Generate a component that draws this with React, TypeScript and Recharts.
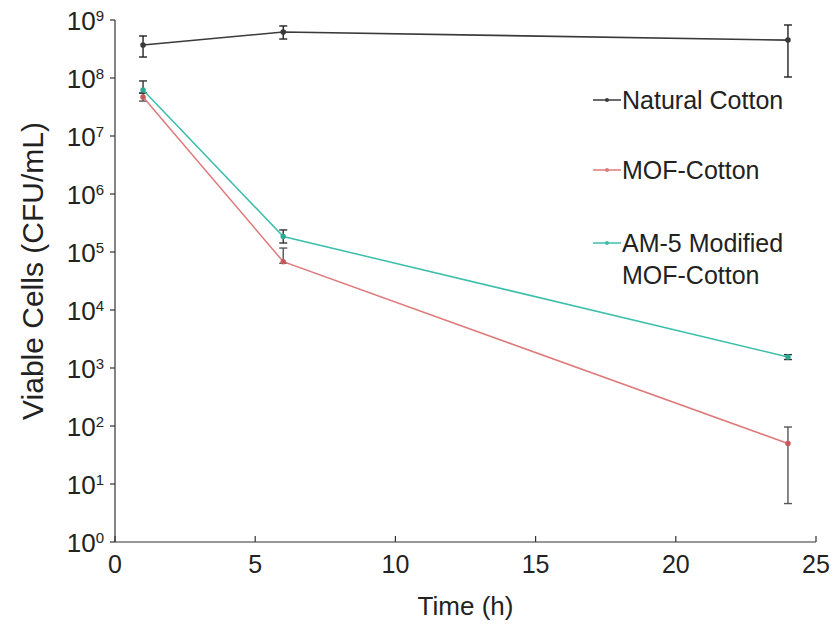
import React from 'react';
import { LineChart, Line, XAxis, YAxis, ErrorBar, Legend } from 'recharts';

// sampling times (h)
const times = [1, 6, 24];

// viable cell counts (CFU/mL) and error deltas [below, above]
const naturalCotton = [3.7e8, 6.2e8, 4.5e8];
const naturalCottonErr = [[1.4e8, 1.6e8], [1.5e8, 1.7e8], [3.46e8, 3.7e8]];
const mofCotton = [4.7e7, 6.8e4, 50];
const mofCottonErr = [[0.7e7, 0.8e7], [0.4e4, 4.9e4], [45.4, 46]];
const am5Cotton = [6.2e7, 1.85e5, 1550];
const am5CottonErr = [[0.7e7, 2.7e7], [0.42e5, 0.55e5], [150, 150]];

const seriesOrder = ['Natural Cotton', 'MOF-Cotton', 'AM-5 Modified MOF-Cotton'];
const xTicks = [0, 5, 10, 15, 20, 25];
const yTicks = [1, 1e1, 1e2, 1e3, 1e4, 1e5, 1e6, 1e7, 1e8, 1e9];

const rows = times.map((t, i) => ({
  time: t,
  natural: naturalCotton[i],
  naturalErr: naturalCottonErr[i],
  mof: mofCotton[i],
  mofErr: mofCottonErr[i],
  am5: am5Cotton[i],
  am5Err: am5CottonErr[i],
}));

const SANS = "'Liberation Sans', Arial, sans-serif";
const INK = '#222';

const PowerTick = (props: any) => {
  const { x, y, payload } = props;
  const exp = Math.round(Math.log10(payload.value));
  return (
    <text x={x} y={y + 10} textAnchor="end" fontSize={26} fill={INK} fontFamily={SANS}>
      10<tspan dy={-9} fontSize={15}>{exp}</tspan>
    </text>
  );
};

const TimeTick = (props: any) => {
  const { x, y, payload } = props;
  return (
    <g>
      <line x1={x} y1={y} x2={x} y2={y - 6} stroke="#333" strokeWidth={1.2} />
      <text x={x} y={y + 31} textAnchor="middle" fontSize={25} fill={INK} fontFamily={SANS}>
        {payload.value}
      </text>
    </g>
  );
};

const YTitle = (props: any) => {
  const { viewBox } = props;
  const cx = viewBox.x + 32;
  const cy = viewBox.y + viewBox.height / 2 - 10;
  return (
    <text
      x={cx}
      y={cy}
      transform={`rotate(-90 ${cx} ${cy})`}
      textAnchor="middle"
      dominantBaseline="central"
      fontSize={30}
      fill={INK}
      fontFamily={SANS}
    >
      Viable Cells (CFU/mL)
    </text>
  );
};

const XTitle = (props: any) => {
  const { viewBox } = props;
  const cx = viewBox.x + viewBox.width / 2;
  return (
    <text x={cx} y={615} textAnchor="middle" fontSize={26} fill={INK} fontFamily={SANS}>
      Time (h)
    </text>
  );
};

const legendLines: Record<string, string[]> = {
  'AM-5 Modified MOF-Cotton': ['AM-5 Modified', 'MOF-Cotton'],
};

const SeriesLegend = (props: any) => {
  const { payload = [] } = props;
  const items = seriesOrder
    .map((name) => payload.find((p: any) => p.value === name))
    .filter(Boolean);
  return (
    <div style={{ fontFamily: SANS, fontSize: 25, color: INK }}>
      {items.map((item: any, i: number) => (
        <div key={item.value} style={{ display: 'flex', alignItems: 'flex-start', marginBottom: i === 0 ? 38 : 41 }}>
          <svg width={29} height={32} style={{ flex: 'none' }}>
            <line x1={0} y1={16} x2={28} y2={16} stroke={item.color} strokeWidth={1.5} />
            <circle cx={14} cy={16} r={2} fill={item.color} />
          </svg>
          <div style={{ lineHeight: '32px', whiteSpace: 'nowrap' }}>
            {(legendLines[item.value] || [item.value]).map((l) => (
              <div key={l}>{l}</div>
            ))}
          </div>
        </div>
      ))}
    </div>
  );
};

export default function App() {
  return (
    <div style={{ position: 'absolute', left: 0, top: 0, background: '#fff' }}>
      <LineChart width={834} height={629} data={rows} margin={{ top: 20, right: 18, bottom: 47, left: 0 }}>
        <XAxis
          dataKey="time"
          type="number"
          domain={[0, 25]}
          ticks={xTicks}
          interval={0}
          height={40}
          tickSize={0}
          tickMargin={0}
          tick={<TimeTick />}
          axisLine={{ stroke: '#333', strokeWidth: 1.2 }}
          label={<XTitle />}
        />
        <YAxis
          type="number"
          scale="log"
          domain={[1, 1e9]}
          ticks={yTicks}
          interval={0}
          allowDataOverflow
          width={115}
          tickSize={5}
          tickMargin={6}
          tick={<PowerTick />}
          tickLine={{ stroke: '#333', strokeWidth: 1.2 }}
          axisLine={{ stroke: '#333', strokeWidth: 1.2 }}
          label={<YTitle />}
        />
        <Legend
          layout="vertical"
          align="center"
          verticalAlign="middle"
          content={<SeriesLegend />}
          wrapperStyle={{ left: 593, top: 84, width: 230 }}
        />
        <Line
          name="Natural Cotton"
          dataKey="natural"
          stroke="#3a3a3a"
          strokeWidth={1.6}
          dot={{ r: 2, fill: '#3a3a3a', stroke: '#3a3a3a' }}
          isAnimationActive={false}
        >
          <ErrorBar dataKey="naturalErr" width={4} stroke="#222" strokeWidth={1.4} direction="y" />
        </Line>
        <Line
          name="MOF-Cotton"
          dataKey="mof"
          stroke="#de7a7a"
          strokeWidth={1.5}
          dot={{ r: 2, fill: '#c65a5a', stroke: '#c65a5a' }}
          isAnimationActive={false}
        >
          <ErrorBar dataKey="mofErr" width={4} stroke="#555" strokeWidth={1.4} direction="y" />
        </Line>
        <Line
          name="AM-5 Modified MOF-Cotton"
          dataKey="am5"
          stroke="#3cbfaa"
          strokeWidth={1.5}
          dot={{ r: 2, fill: '#2fa894', stroke: '#2fa894' }}
          isAnimationActive={false}
        >
          <ErrorBar dataKey="am5Err" width={4} stroke="#333" strokeWidth={1.4} direction="y" />
        </Line>
      </LineChart>
    </div>
  );
}
